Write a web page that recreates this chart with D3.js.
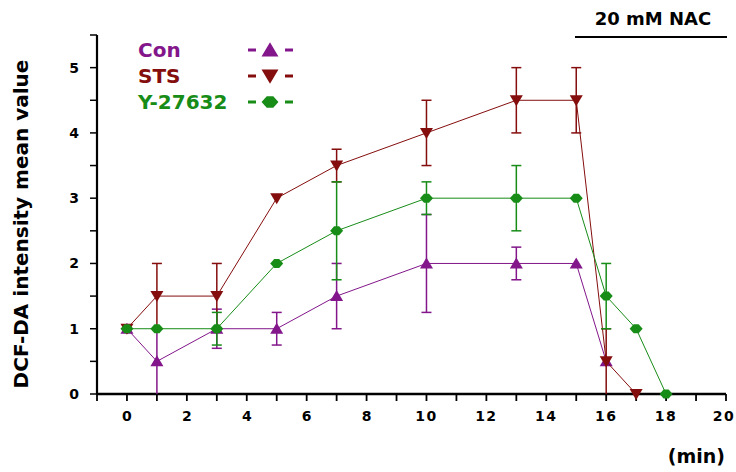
<!DOCTYPE html>
<html>
<head>
<meta charset="utf-8">
<script src="https://cdn.jsdelivr.net/npm/d3@7"></script>
<style>
  body { margin: 0; background: #fff; }
  svg { display: block; font-family: "DejaVu Sans", Verdana, sans-serif; }
</style>
</head>
<body>
<svg id="chart"></svg>
<script>
// ---- data ----
const xTicks = [0, 2, 4, 6, 8, 10, 12, 14, 16, 18, 20];
const yTicks = [0, 1, 2, 3, 4, 5];

const conTime = [0, 1, 3, 5, 7, 10, 13, 15, 16];
const conMean = [1, 0.5, 1, 1, 1.5, 2, 2, 2, 0.5];
const conErr  = [0, 0.5, 0.3, 0.25, 0.5, 0.75, 0.25, 0, 0];

const stsTime = [0, 1, 3, 5, 7, 10, 13, 15, 16, 17];
const stsMean = [1, 1.5, 1.5, 3, 3.5, 4, 4.5, 4.5, 0.5, 0];
const stsErr  = [0, 0.5, 0.5, 0, 0.25, 0.5, 0.5, 0.5, 0.5, 0];

const yTime = [0, 1, 3, 5, 7, 10, 13, 15, 16, 17, 18];
const yMean = [1, 1, 1, 2, 2.5, 3, 3, 3, 1.5, 1, 0];
const yErr  = [0, 0, 0.25, 0, 0.75, 0.25, 0.5, 0, 0.5, 0, 0];

const seriesNames = ["Con", "STS", "Y-27632"];
const seriesColors = ["#82168a", "#840d0d", "#178c17"];
const seriesSymbols = ["up", "down", "diamond"];

// ---- layout ----
const width = 736, height = 472;
const svg = d3.select("#chart").attr("width", width).attr("height", height);

const x = d3.scaleLinear().domain([-1, 20]).range([97, 726]);
const y = d3.scaleLinear().domain([0, 5.5]).range([394, 35]);

function makeSeries(t, m, e) {
  return t.map((d, i) => ({ t: d, v: m[i], e: e[i] }));
}
const series = [
  makeSeries(conTime, conMean, conErr),
  makeSeries(stsTime, stsMean, stsErr),
  makeSeries(yTime, yMean, yErr)
];

// s = scale factor for marker size
function marker(sel, kind, color, s) {
  s = s || 1;
  let d;
  if (kind === "up") d = "M0,-6 L6.5,5 L-6.5,5 Z";
  else if (kind === "down") d = "M0,6 L6.5,-5 L-6.5,-5 Z";
  else d = "M-6.5,0 L-2.5,-4.5 L2.5,-4.5 L6.5,0 L2.5,4.5 L-2.5,4.5 Z";
  sel.append("path").attr("d", d).attr("fill", color).attr("transform", `scale(${s})`);
}

// ---- axes ----
const axisG = svg.append("g");
axisG.append("line").attr("x1", x(-1)).attr("x2", x(-1)).attr("y1", y(5.5)).attr("y2", y(0))
  .attr("stroke", "#000").attr("stroke-width", 2.2);
axisG.append("line").attr("x1", x(-1)).attr("x2", x(20)).attr("y1", y(0)).attr("y2", y(0))
  .attr("stroke", "#000").attr("stroke-width", 2.5);

d3.range(0, 5.51, 0.5).forEach(v => {
  axisG.append("line").attr("x1", x(-1) - 7).attr("x2", x(-1)).attr("y1", y(v)).attr("y2", y(v))
    .attr("stroke", "#000").attr("stroke-width", 1.5);
});
axisG.selectAll(".ylab").data(yTicks).join("text")
  .attr("x", 79).attr("y", d => y(d) + 5)
  .attr("text-anchor", "end").attr("font-size", 14).attr("font-weight", "bold")
  .text(d => d);

d3.range(-1, 20.1, 1).forEach(v => {
  axisG.append("line").attr("x1", x(v)).attr("x2", x(v)).attr("y1", y(0)).attr("y2", y(0) + 7)
    .attr("stroke", "#000").attr("stroke-width", 1.8);
});
axisG.selectAll(".xlab").data(xTicks).join("text")
  .attr("x", d => x(d) + (d === 20 ? -2 : 0)).attr("y", 421)
  .attr("text-anchor", "middle").attr("font-size", 14).attr("font-weight", "bold")
  .attr("letter-spacing", d => d >= 10 ? "1.5px" : "0px")
  .text(d => d);

// axis titles
svg.append("text")
  .attr("transform", `translate(28, 224) rotate(-90)`)
  .attr("text-anchor", "middle").attr("font-size", 20).attr("font-weight", "bold")
  .text("DCF-DA intensity mean value");
svg.append("text")
  .attr("x", 725).attr("y", 463).attr("text-anchor", "end")
  .attr("font-size", 19).attr("font-weight", "bold")
  .text("(min)");

// NAC label
svg.append("text")
  .attr("x", 653).attr("y", 25).attr("text-anchor", "middle")
  .attr("font-size", 18).attr("font-weight", "bold")
  .text("20 mM NAC");
svg.append("line").attr("x1", 575).attr("x2", 727).attr("y1", 37).attr("y2", 37)
  .attr("stroke", "#000").attr("stroke-width", 2.2);

// ---- series ----
const line = d3.line().x(d => x(d.t)).y(d => y(d.v));
const cap = 5;

series.forEach((data, si) => {
  const color = seriesColors[si];
  const g = svg.append("g");
  g.append("path").datum(data).attr("d", line)
    .attr("fill", "none").attr("stroke", color).attr("stroke-width", 1);
  const eb = g.selectAll(".eb").data(data.filter(d => d.e > 0)).join("g");
  eb.append("line").attr("x1", d => x(d.t)).attr("x2", d => x(d.t))
    .attr("y1", d => y(d.v + d.e)).attr("y2", d => y(Math.max(0, d.v - d.e)))
    .attr("stroke", color).attr("stroke-width", 1.5);
  eb.append("line").attr("x1", d => x(d.t) - cap).attr("x2", d => x(d.t) + cap)
    .attr("y1", d => y(d.v + d.e)).attr("y2", d => y(d.v + d.e))
    .attr("stroke", color).attr("stroke-width", 1.5);
  eb.filter(d => d.v - d.e > 0).append("line")
    .attr("x1", d => x(d.t) - cap).attr("x2", d => x(d.t) + cap)
    .attr("y1", d => y(d.v - d.e)).attr("y2", d => y(d.v - d.e))
    .attr("stroke", color).attr("stroke-width", 1.5);
  g.selectAll(".pt").data(data).join("g")
    .attr("transform", d => `translate(${x(d.t)},${y(d.v)})`)
    .each(function() { marker(d3.select(this), seriesSymbols[si], color, 1); });
});

// ---- legend ----
const legend = svg.append("g");
seriesNames.forEach((name, i) => {
  const cy = 50 + i * 26;
  const color = seriesColors[i];
  legend.append("text").attr("x", 138).attr("y", cy + 7)
    .attr("font-size", 20).attr("font-weight", "bold").attr("fill", color)
    .text(name);
  legend.append("line").attr("x1", 248).attr("x2", 256).attr("y1", cy).attr("y2", cy)
    .attr("stroke", color).attr("stroke-width", 3);
  legend.append("line").attr("x1", 285).attr("x2", 293).attr("y1", cy).attr("y2", cy)
    .attr("stroke", color).attr("stroke-width", 3);
  marker(legend.append("g").attr("transform", `translate(270,${cy})`), seriesSymbols[i], color, 1.3);
});
</script>
</body>
</html>
